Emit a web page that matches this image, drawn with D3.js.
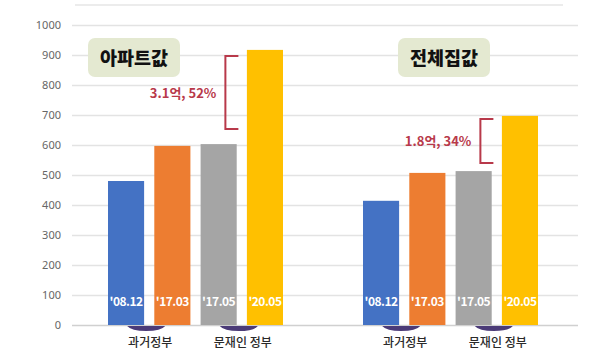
<!DOCTYPE html>
<html>
<head>
<meta charset="utf-8">
<title>아파트값 / 전체집값</title>
<script src="https://cdn.jsdelivr.net/npm/d3@7"></script>
<style>
  body { margin: 0; background: #fff; }
  text { font-family: "Noto Sans CJK KR", "Noto Sans", sans-serif; }
</style>
</head>
<body>
<script>
// data (단위: 백만원)
var groups = ["아파트값", "전체집값"];
var periods = ["'08.12", "'17.03", "'17.05", "'20.05"];
var apartValues = [480, 597, 603, 917];
var houseValues = [414, 507, 513, 697];
var tickValues = [0, 100, 200, 300, 400, 500, 600, 700, 800, 900, 1000];
var notes = ["3.1억, 52%", "1.8억, 34%"];
var eraLabels = ["과거정부", "문재인 정부"];

var colors = ["#4472c4", "#ed7d31", "#a5a5a5", "#ffc000"];
var seriesValues = [apartValues, houseValues];

var width = 600, height = 359;

var svg = d3.select("body").append("svg")
    .attr("width", width)
    .attr("height", height);

var y = d3.scaleLinear().domain([0, 1000]).range([325, 25]);

var x0 = d3.scaleBand().domain(groups).range([68, 578]);
var x1 = d3.scaleBand().domain(periods).range([0, x0.bandwidth()])
    .paddingInner(0.22).paddingOuter(0.864);

// top border line
svg.append("line")
    .attr("x1", 75).attr("x2", 563)
    .attr("y1", 5).attr("y2", 5)
    .attr("stroke", "#e6e6e6").attr("stroke-width", 1.5);

// y axis with grid lines
var yAxis = d3.axisLeft(y).tickValues(tickValues).tickFormat(d3.format("d"))
    .tickSize(-506).tickPadding(11);
var gy = svg.append("g")
    .attr("transform", "translate(72,0)")
    .call(yAxis);
gy.select(".domain").remove();
gy.selectAll(".tick line")
    .attr("stroke", function(d) { return d === 0 ? "#d0d0d0" : "#e3e3e3"; })
    .attr("stroke-width", 1.5);
gy.selectAll(".tick text")
    .attr("fill", "#666")
    .attr("font-size", 11)
    .style("font-family", "'Noto Sans', sans-serif");

// bars
var g = svg.selectAll(".group")
    .data(groups)
    .enter().append("g")
    .attr("class", "group")
    .attr("transform", function(d) { return "translate(" + x0(d) + ",0)"; });

g.selectAll("rect")
    .data(function(d, i) {
        return periods.map(function(p, j) { return {p: p, v: seriesValues[i][j], c: colors[j]}; });
    })
    .enter().append("rect")
    .attr("x", function(d) { return x1(d.p); })
    .attr("y", function(d) { return y(d.v); })
    .attr("width", x1.bandwidth())
    .attr("height", function(d) { return y(0) - y(d.v); })
    .attr("fill", function(d) { return d.c; });

// period labels inside bars
g.selectAll(".plabel")
    .data(periods)
    .enter().append("text")
    .attr("class", "plabel")
    .attr("x", function(d) { return x1(d) + x1.bandwidth() / 2; })
    .attr("y", 306)
    .attr("text-anchor", "middle")
    .attr("fill", "#fff")
    .attr("font-size", 12)
    .attr("font-weight", "bold")
    .attr("letter-spacing", -0.5)
    .text(function(d) { return d; });

// era markers under axis (between bar pairs)
var eraPairs = [[0, 1], [2, 3]];
g.each(function(gd) {
    var gg = d3.select(this);
    eraPairs.forEach(function(pr, k) {
        var cx = (x1(periods[pr[0]]) + x1.bandwidth() + x1(periods[pr[1]])) / 2 - 3;
        gg.append("path")
            .attr("d", "M" + (cx - 19) + ",326 L" + (cx + 19) + ",326 " +
                "Q" + (cx + 15) + ",331 " + cx + ",331 Q" + (cx - 15) + ",331 " + (cx - 19) + ",326 Z")
            .attr("fill", "#4b3b78");
        gg.append("text")
            .attr("x", cx + 4)
            .attr("y", 347)
            .attr("text-anchor", "middle")
            .attr("fill", "#2a2a2a")
            .attr("font-size", 12)
            .attr("font-weight", 500)
            .text(eraLabels[k]);
    });
});

// title boxes
var boxCenters = [134, 444];
g.each(function(gd, i) {
    var gg = d3.select(this);
    var cx = boxCenters[i] - x0(gd);
    gg.append("rect")
        .attr("x", cx - 46).attr("y", 38)
        .attr("width", 92).attr("height", 39)
        .attr("rx", 7)
        .attr("fill", "#e4e9d1");
    gg.append("text")
        .attr("x", cx).attr("y", 64.5)
        .attr("text-anchor", "middle")
        .attr("fill", "#111")
        .attr("font-size", 18.5)
        .attr("font-weight", 900)
        .text(gd);
});

// change brackets
var bracketPad = [[6, 15], [3, 8]];
g.each(function(gd, i) {
    var gg = d3.select(this);
    var vals = seriesValues[i];
    var xr = x1(periods[3]) - 8.5;
    var xl = xr - 13;
    var yt = y(vals[3]) + bracketPad[i][0];
    var yb = y(vals[2]) - bracketPad[i][1];
    gg.append("path")
        .attr("d", "M" + xr + "," + yt + " H" + xl + " V" + yb + " H" + xr)
        .attr("fill", "none")
        .attr("stroke", "#b8394a")
        .attr("stroke-width", 2);
    gg.append("text")
        .attr("x", xl - 9)
        .attr("y", (yt + yb) / 2 + 5)
        .attr("text-anchor", "end")
        .attr("fill", "#b8394a")
        .attr("font-size", 13)
        .attr("font-weight", "bold")
        .text(notes[i]);
});
</script>
</body>
</html>
